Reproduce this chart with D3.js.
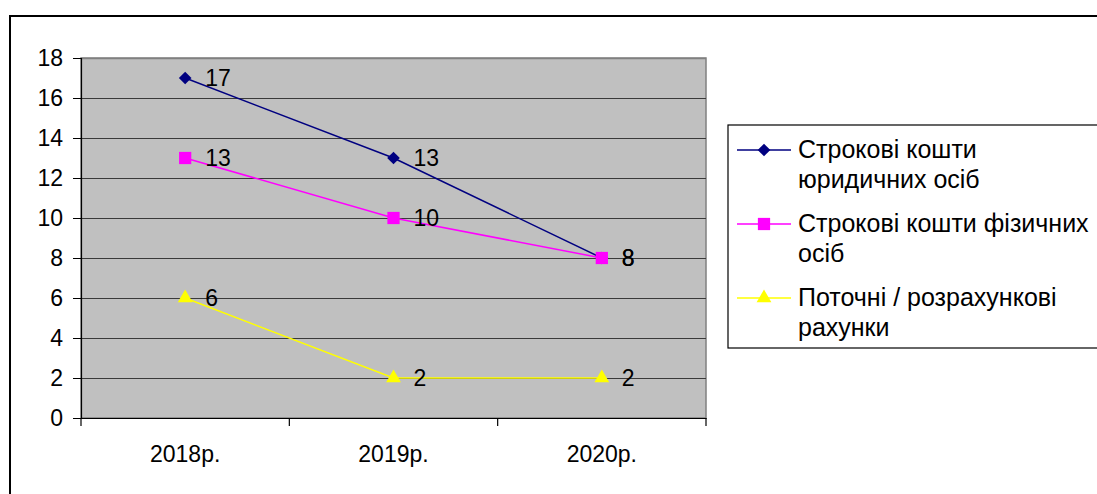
<!DOCTYPE html>
<html>
<head>
<meta charset="utf-8">
<script src="https://cdn.jsdelivr.net/npm/d3@7"></script>
<style>
  body { margin: 0; background: #fff; }
  svg { display: block; font-family: "Liberation Sans", Arial, sans-serif; }
</style>
</head>
<body>
<svg id="chart" width="1097" height="494"></svg>
<script>
// Categories and series
const years = ["2018р.", "2019р.", "2020р."];
const legalTerm = [17, 13, 8];
const personalTerm = [13, 10, 8];
const currentAccounts = [6, 2, 2];
const yTicks = [0, 2, 4, 6, 8, 10, 12, 14, 16, 18];

// square diamond marker (equal width and height)
const squareDiamond = {
  draw(ctx, size) {
    const r = Math.sqrt(size / 2);
    ctx.moveTo(0, -r); ctx.lineTo(r, 0); ctx.lineTo(0, r); ctx.lineTo(-r, 0); ctx.closePath();
  }
};

const series = [
  { name: ["Строкові кошти", "юридичних осіб"], values: legalTerm, color: "#000080", symbol: squareDiamond, size: 80 },
  { name: ["Строкові кошти фізичних", "осіб"], values: personalTerm, color: "#FF00FF", symbol: d3.symbolSquare, size: 150 },
  { name: ["Поточні / розрахункові", "рахунки"], values: currentAccounts, color: "#FFFF00", symbol: d3.symbolTriangle, size: 95 }
];

const svg = d3.select("#chart");

// outer frame
svg.append("rect").attr("x", 10).attr("y", 16).attr("width", 1100).attr("height", 500)
  .attr("fill", "none").attr("stroke", "#000").attr("stroke-width", 2);

const plot = { left: 81, right: 706, top: 58, bottom: 418 };

const x = d3.scaleBand().domain(years).range([plot.left, plot.right]);
const y = d3.scaleLinear().domain([0, 18]).range([plot.bottom, plot.top]);

// plot background
svg.append("rect").attr("x", plot.left).attr("y", plot.top)
  .attr("width", plot.right - plot.left).attr("height", plot.bottom - plot.top)
  .attr("fill", "#C0C0C0").attr("stroke", "#808080").attr("stroke-width", 1.5);

// horizontal gridlines
svg.append("g").selectAll("line").data(yTicks.filter(t => t > 0)).join("line")
  .attr("x1", plot.left).attr("x2", plot.right)
  .attr("y1", d => Math.round(y(d)) + 0.5).attr("y2", d => Math.round(y(d)) + 0.5)
  .attr("stroke", d => d === 18 ? "#808080" : "#3a3a3a").attr("stroke-width", d => d === 18 ? 1.5 : 1.2);

// y axis
const yAxis = svg.append("g").attr("transform", `translate(${plot.left},0)`)
  .call(d3.axisLeft(y).tickValues(yTicks).tickSize(8).tickPadding(10));
yAxis.select(".domain").attr("stroke", "#000").attr("stroke-width", 1.2);
yAxis.selectAll(".tick line").attr("stroke", "#000");
yAxis.selectAll(".tick text").attr("font-size", 23).attr("fill", "#000")
  .attr("font-family", "Liberation Sans, Arial, sans-serif");

// x axis
const xAxis = svg.append("g").attr("transform", `translate(0,${plot.bottom})`)
  .call(d3.axisBottom(x).tickSize(0).tickPadding(28));
xAxis.select(".domain").attr("stroke", "#000").attr("stroke-width", 1.2);
xAxis.selectAll(".tick text").attr("font-size", 23).attr("fill", "#000")
  .attr("font-family", "Liberation Sans, Arial, sans-serif");
// category separator ticks
const seps = years.map(d => x(d)).concat([x(years[years.length - 1]) + x.bandwidth()]);
svg.append("g").selectAll("line").data(seps).join("line")
  .attr("x1", d => d).attr("x2", d => d)
  .attr("y1", plot.bottom).attr("y2", plot.bottom + 8)
  .attr("stroke", "#000").attr("stroke-width", 1.2);

const cx = d => x(d) + x.bandwidth() / 2;

// lines and markers
series.forEach(s => {
  const pts = years.map((yr, i) => [cx(yr), y(s.values[i]), s.values[i]]);
  svg.append("path").datum(pts)
    .attr("d", d3.line().x(p => p[0]).y(p => p[1]))
    .attr("fill", "none").attr("stroke", s.color).attr("stroke-width", 1.5);
  svg.append("g").selectAll("path").data(pts).join("path")
    .attr("transform", p => `translate(${p[0]},${p[1]})`)
    .attr("d", d3.symbol().type(s.symbol).size(s.size))
    .attr("fill", s.color);
});
// value labels
series.forEach(s => {
  const pts = years.map((yr, i) => [cx(yr), y(s.values[i]), s.values[i]]);
  svg.append("g").selectAll("text").data(pts).join("text")
    .attr("x", p => p[0] + 20).attr("y", p => p[1] + 8)
    .attr("font-size", 23).attr("fill", "#000")
    .text(p => p[2]);
});

// legend
const lg = svg.append("g");
lg.append("rect").attr("x", 728).attr("y", 125).attr("width", 400).attr("height", 223)
  .attr("fill", "#fff").attr("stroke", "#000").attr("stroke-width", 1.2);
series.forEach((s, i) => {
  const ly = 150 + i * 74;
  lg.append("line").attr("x1", 737).attr("x2", 791).attr("y1", ly).attr("y2", ly)
    .attr("stroke", s.color).attr("stroke-width", 1.5);
  lg.append("path").attr("transform", `translate(764,${ly})`)
    .attr("d", d3.symbol().type(s.symbol).size(s.size)).attr("fill", s.color);
  s.name.forEach((t, j) => {
    lg.append("text").attr("x", 798).attr("y", ly + 8 + j * 30)
      .attr("font-size", 25).attr("fill", "#000").text(t);
  });
});
</script>
</body>
</html>
